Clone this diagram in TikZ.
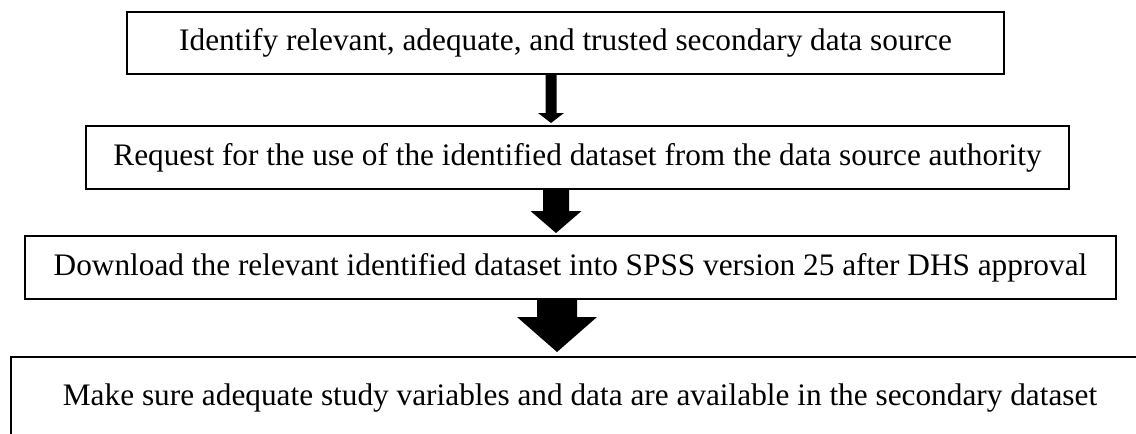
\documentclass[tikz,border=0pt]{standalone}
\usepackage{fontspec}
\setmainfont{Liberation Serif}
\usetikzlibrary{calc}
\tikzset{
  stepbox/.style={draw=black, line width=2pt, inner sep=0pt, outer sep=0pt,
    font=\fontsize{31.3}{34}\selectfont, text=black, fill=white},
  blk/.style n args={3}{to path={let \p1=(\tikztostart), \p2=(\tikztotarget) in
    (\x1-#1/2,\y1) -- (\x1+#1/2,\y1) -- (\x1+#1/2,\y2+#3) -- (\x1+#2/2,\y2+#3)
    -- (\x1,\y2) -- (\x1-#2/2,\y2+#3) -- (\x1-#1/2,\y2+#3) -- cycle}},
}
\begin{document}
\begin{tikzpicture}[x=1pt,y=-1pt]
\useasboundingbox (0,0) rectangle (1136,434);
\clip (0,0) rectangle (1136,434);
\node[stepbox, minimum width=877pt, minimum height=62pt] (b1) at (565.5,43)
  {Identify relevant, adequate, and trusted secondary data source};
\node[stepbox, minimum width=983pt, minimum height=63pt] (b2) at (577.5,157.5)
  {Request for the use of the identified dataset from the data source authority};
\node[stepbox, minimum width=1091pt, minimum height=63pt] (b3) at (570.5,267.5)
  {Download the relevant identified dataset into SPSS version 25 after DHS approval};
\node[stepbox, minimum width=1138pt, minimum height=82pt] (b4) at (580,398)
  {Make sure adequate study variables and data are available in the secondary dataset};
\fill[black] ([xshift=-14.5pt,yshift=-1pt]b1.south) to[blk={11pt}{26pt}{10pt}] ([xshift=-26.5pt,yshift=3pt]b2.north);
\fill[black] ([xshift=-21.5pt,yshift=-1pt]b2.south) to[blk={26pt}{51pt}{22pt}] ([xshift=-21.5pt,yshift=3pt]b3.north);
\fill[black] ([xshift=-13.5pt,yshift=-1pt]b3.south) to[blk={40pt}{80pt}{35pt}] ([xshift=-23pt,yshift=5pt]b4.north);
\end{tikzpicture}
\end{document}
